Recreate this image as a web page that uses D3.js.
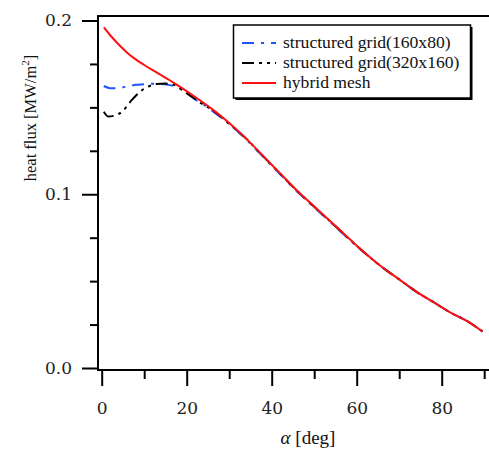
<!DOCTYPE html>
<html><head><meta charset="utf-8">
<script src="https://cdn.jsdelivr.net/npm/d3@7"></script>
<style>html,body{margin:0;padding:0;background:#fff;}svg{display:block;}</style>
</head><body><svg id="c" width="489" height="450"></svg>
<script>
// ---- data ----
const redAlpha = [0.5,2,4,6,8,10,12,14,16,18,22,26,30,34,38,42,46,50,54,58,62,66,70,74,78,82,86,89.6];
const redFlux  = [0.196,0.1915,0.1862,0.1815,0.1776,0.1744,0.1714,0.1686,0.1656,0.1625,0.156,0.149,0.141,0.132,0.122,0.112,0.102,0.093,0.084,0.075,0.066,0.058,0.051,0.044,0.038,0.032,0.027,0.021];
const blueAlpha = [0.5,2,4,6,8,10,12,14,16,18,20,22,24,26,30,34,38,42,46,50,54,58,62,66,70,74,78,82,86,89.6];
const blueFlux  = [0.1623,0.161,0.1612,0.162,0.163,0.1633,0.1636,0.1635,0.1628,0.1615,0.1585,0.1545,0.1515,0.148,0.1405,0.1315,0.1215,0.1115,0.1015,0.0925,0.0835,0.0745,0.066,0.058,0.051,0.044,0.038,0.032,0.027,0.021];
const blackAlpha = [0.5,1.5,3,5,7,9,11,13,15,17,19,21,23,26,30,34,38,42,46,50,54,58,62,66,70,74,78,82,86,89.6];
const blackFlux  = [0.1475,0.1448,0.1452,0.148,0.154,0.159,0.162,0.1635,0.1637,0.163,0.1598,0.1565,0.153,0.1485,0.1405,0.132,0.1218,0.1118,0.1018,0.0928,0.0838,0.0748,0.066,0.058,0.051,0.044,0.038,0.032,0.027,0.021];
const seriesNames = ["structured grid(160x80)","structured grid(320x160)","hybrid mesh"];
const xMajorTicks = [0,20,40,60,80];
const xMinorTicks = [10,30,50,70,90];
const yMajorTicks = [0,0.1,0.2];
const yMinorTicks = [0.025,0.05,0.075,0.125,0.15,0.175];

// ---- layout ----
const svg = d3.select("#c");
const x = d3.scaleLinear().domain([0,90]).range([101.7,484.2]);
const y = d3.scaleLinear().domain([0,0.2]).range([368,20.5]);
const axisLeftX = 98, axisBottomY = 370, frameTop = 16;

const tickFont = "'DejaVu Serif', serif";
const textFont = "'Liberation Serif','Times New Roman',serif";

// frame lines
svg.append("line").attr("x1",axisLeftX).attr("x2",axisLeftX).attr("y1",frameTop-1).attr("y2",axisBottomY+1)
  .attr("stroke","#000").attr("stroke-width",2);
svg.append("line").attr("x1",axisLeftX-1).attr("x2",489).attr("y1",axisBottomY).attr("y2",axisBottomY)
  .attr("stroke","#000").attr("stroke-width",2);
svg.append("line").attr("x1",axisLeftX-1).attr("x2",489).attr("y1",frameTop).attr("y2",frameTop)
  .attr("stroke","#000").attr("stroke-width",2);

// x axis
const gx = svg.append("g").attr("transform",`translate(0,${axisBottomY})`);
gx.call(d3.axisBottom(x).tickValues(xMajorTicks).tickSize(16).tickPadding(16).tickFormat(d3.format("d")));
gx.append("g").call(d3.axisBottom(x).tickValues(xMinorTicks).tickSize(9).tickFormat(""));
gx.selectAll(".domain").remove();
gx.selectAll("line").attr("stroke","#000").attr("stroke-width",2);
gx.selectAll("text").attr("font-family",tickFont).attr("font-size",17).attr("fill","#222").attr("dy","0.71em");

// y axis
const gy = svg.append("g").attr("transform",`translate(${axisLeftX},0)`);
gy.call(d3.axisLeft(y).tickValues(yMajorTicks).tickSize(16).tickPadding(10).tickFormat(d3.format(".1f")));
gy.append("g").call(d3.axisLeft(y).tickValues(yMinorTicks).tickSize(8).tickFormat(""));
gy.selectAll(".domain").remove();
gy.selectAll("line").attr("stroke","#000").attr("stroke-width",2);
gy.selectAll("text").attr("font-family",tickFont).attr("font-size",17).attr("fill","#222");

// axis titles
const yl = svg.append("text").attr("transform","translate(36,118) rotate(-90)")
  .attr("text-anchor","middle").attr("font-family",textFont).attr("font-size",16.5).attr("fill","#111");
yl.append("tspan").text("heat flux [MW/m");
yl.append("tspan").attr("font-size",11).attr("dy",-7).text("2");
yl.append("tspan").attr("dy",7).text("]");

const xl = svg.append("text").attr("x",308).attr("y",444).attr("text-anchor","middle")
  .attr("font-family",textFont).attr("font-size",19).attr("fill","#111");
xl.append("tspan").attr("font-style","italic").text("α");
xl.append("tspan").text(" [deg]");

// lines
const line = d3.line().x(d=>x(d[0])).y(d=>y(d[1])).curve(d3.curveMonotoneX);
const series = [
  {name:seriesNames[0], a:blueAlpha, v:blueFlux, color:"#1f55ff", dash:"12,7,3,7"},
  {name:seriesNames[1], a:blackAlpha, v:blackFlux, color:"#000", dash:"12,5,3,5,3,5"},
  {name:seriesNames[2], a:redAlpha, v:redFlux, color:"#ff1010", dash:null}
];
series.forEach(s=>{
  svg.append("path").datum(s.a.map((a,i)=>[a,s.v[i]]))
    .attr("d",line).attr("fill","none").attr("stroke",s.color).attr("stroke-width",2)
    .attr("stroke-dasharray",s.dash);
});

// legend
const lg = svg.append("g");
lg.append("rect").attr("x",235.5).attr("y",27).attr("width",237).attr("height",73).attr("fill","#000");
lg.append("rect").attr("x",233.5).attr("y",25).attr("width",237).attr("height",73).attr("fill","#fff")
  .attr("stroke","#000").attr("stroke-width",1.5);
series.forEach((s,i)=>{
  const ry = 43 + i*20;
  lg.append("line").attr("x1",242).attr("x2",276).attr("y1",ry).attr("y2",ry)
    .attr("stroke",s.color).attr("stroke-width",2).attr("stroke-dasharray",s.dash);
  lg.append("text").attr("x",283).attr("y",ry+5).text(s.name)
    .attr("font-family",textFont).attr("font-size",17.6).attr("fill","#111");
});
</script></body></html>
